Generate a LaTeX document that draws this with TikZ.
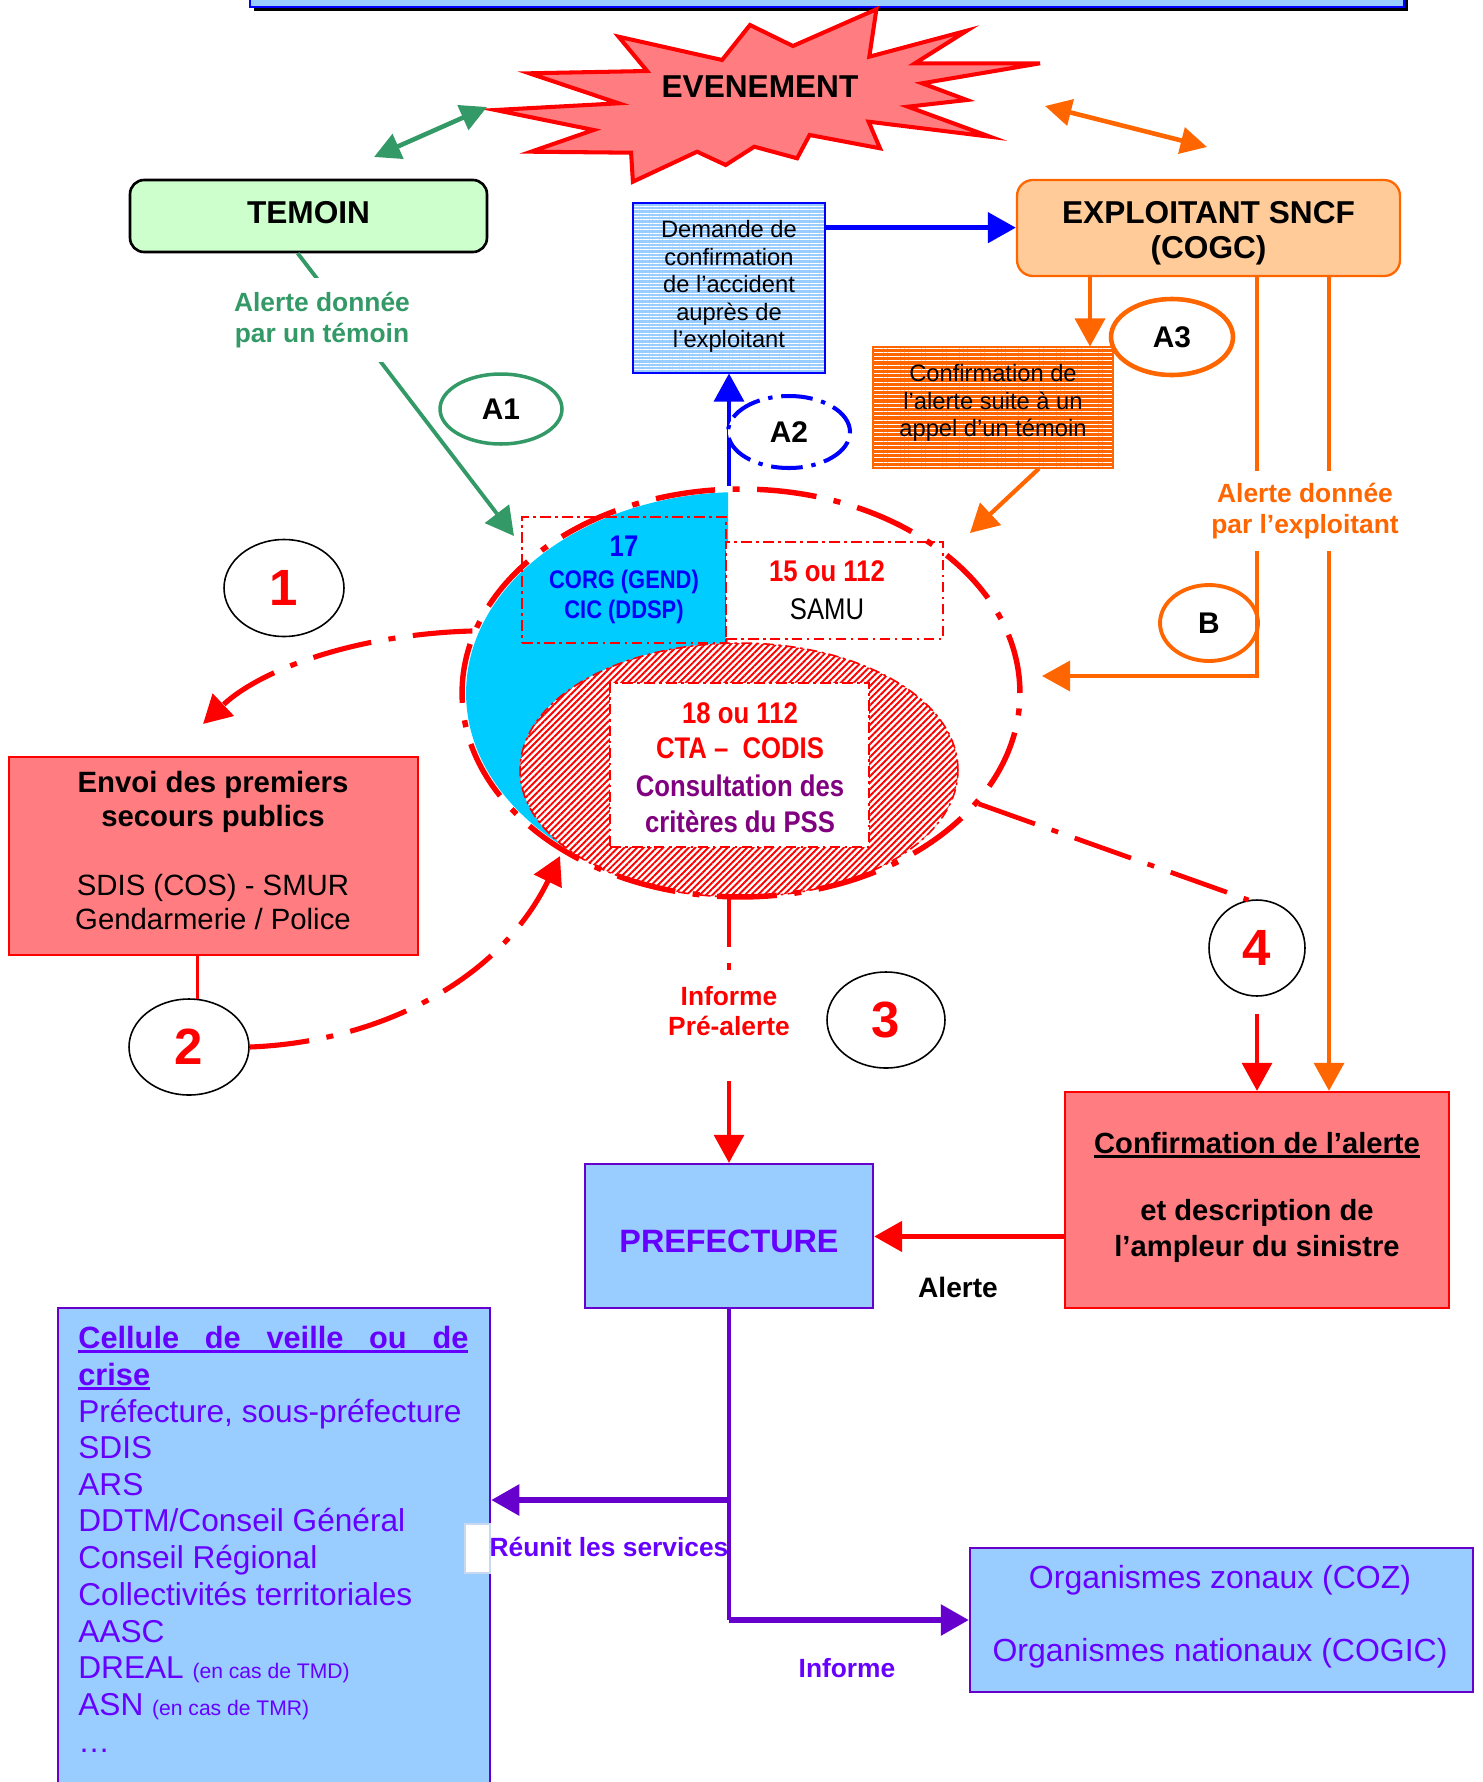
\documentclass[tikz,border=0pt]{standalone}
\usepackage{fontspec}
\setmainfont{Liberation Sans}
\newfontfamily\narrowfont[FakeStretch=0.86]{Liberation Sans}
\usetikzlibrary{arrows.meta,shapes.geometric,patterns.meta,calc}
\definecolor{cSalmon}{HTML}{FF7C80}
\definecolor{cGreen}{HTML}{339966}
\definecolor{cOrange}{HTML}{FF6600}
\definecolor{cLblue}{HTML}{99CCFF}
\definecolor{cCyan}{HTML}{00CCFF}
\definecolor{cLgreen}{HTML}{CCFFCC}
\definecolor{cPeach}{HTML}{FFCC99}
\definecolor{cPurple}{HTML}{6600CC}
\definecolor{cViolet}{HTML}{6600FF}
\definecolor{cPlum}{HTML}{800080}
\definecolor{cPale}{HTML}{C8D8F0}
\newcommand\fsz[2]{\fontsize{#1}{#2}\selectfont}
\newcommand\myul[1]{\setbox0=\hbox{#1}\rlap{\rule[-2.8pt]{\wd0}{1.4pt}}\box0}
\tikzset{
 arrA/.style={-{Triangle[length=16pt,width=17pt]}},
 arrAA/.style={{Triangle[length=15pt,width=15pt]}-{Triangle[length=15pt,width=15pt]}},
 dd/.style={dash pattern=on 34pt off 10pt on 4pt off 10pt},
 thindd/.style={draw=red, line width=0.9pt, dash pattern=on 6pt off 2.5pt on 1.5pt off 2.5pt},
 tb/.style={anchor=base, inner sep=0pt},
 tw/.style={anchor=base west, inner sep=0pt},
 numc/.style={ellipse, draw=black, line width=0.9pt, fill=white, inner sep=0pt, text=red, font=\fsz{29}{30}\bfseries},
 letc/.style={ellipse, fill=white, inner sep=0pt, font=\fsz{17}{18}\bfseries},
}
\begin{document}
\begin{tikzpicture}[x=0.02cm,y=-0.02cm]
\useasboundingbox (0,0) rectangle (1483,1782);
% top banner
\fill[black] (254,-20) rectangle (1408,11);
\draw[blue,line width=1.6pt,fill=cLblue] (250,-20) rectangle (1404,7);
% star
\draw[red,line width=2.3pt,fill=cSalmon] (495.4,110) -- (618.6,103.3) -- (529.3,73.3) -- (647.1,71) -- (618.6,36.7) -- (722.1,60) -- (750,25) -- (792.9,46) -- (876.4,9.3) -- (869.3,56.7) -- (966.8,30.7) -- (915,63.3) -- (1040,63.3) -- (922.1,83.3) -- (966.8,100) -- (907.9,106.7) -- (990,136.7) -- (868.6,121.7) -- (880,148.3) -- (809.6,135) -- (797.1,158.3) -- (754.3,146.7) -- (725.7,165) -- (697.1,151.7) -- (632.9,181.7) -- (631.1,152.7) -- (531.1,151.7) -- (593.6,130) -- cycle;
\node[tb,font=\fsz{18}{20}\bfseries] (evt) at (760,97) {EVENEMENT};
% double arrows
\coordinate (g1) at (374,157); \coordinate (g2) at (487,107);
\draw[cGreen,line width=2.6pt,arrAA] (g1) -- (g2);
\coordinate (o1) at (1045,106); \coordinate (o2) at (1207,147);
\draw[cOrange,line width=2.6pt,arrAA] (o1) -- (o2);
% top boxes
\node[draw=black,line width=1.5pt,fill=cLgreen,rounded corners=8pt,minimum width=7.14cm,minimum height=1.44cm] (temoin) at (308.5,216) {};
\node[font=\fsz{18}{20}\bfseries] (temoinT) at (308.5,212.5) {TEMOIN};
\node[draw=cOrange,line width=1.3pt,fill=cPeach,rounded corners=9pt,minimum width=7.66cm,minimum height=1.92cm] (exploit) at (1208.5,228) {};
\node[align=center,font=\fsz{18}{20}\bfseries] (exploitT) at (1208.5,233.5) {EXPLOITANT SNCF\\(COGC)};
\node[draw=blue,line width=1.3pt,preaction={fill=cLblue},pattern={Lines[angle=0,distance=1.9pt,line width=0.55pt]},pattern color=white,minimum width=3.84cm,minimum height=3.4cm] (demande) at (729,288) {};
\node[align=center,font=\fsz{13.5}{15.7}] (demandeT) at (729,286.5) {Demande de\\confirmation\\de l’accident\\auprès de\\l’exploitant};
\node[draw=cOrange,line width=1pt,preaction={fill=cOrange},pattern={Lines[angle=0,distance=2.4pt,line width=0.55pt]},pattern color=white,minimum width=4.8cm,minimum height=2.42cm] (obox) at (993,407.5) {};
\node[align=center,font=\fsz{13.5}{15.5}] (oboxT) at (993,403) {Confirmation de\\l’alerte suite à un\\appel d’un témoin};
% cyan region
\begin{scope}
\clip (400,470) rectangle (728,900);
\fill[cCyan] (741,693) ellipse [x radius=5.5cm, y radius=4.02cm];
\end{scope}
% hatched ellipse and inner boxes
\node[ellipse,thindd,preaction={fill=white},pattern={Lines[angle=45,distance=2.6pt,line width=1.1pt]},pattern color=red,minimum width=8.76cm,minimum height=5.08cm,inner sep=0pt] (hatch) at (739,770) {};
\node[thindd,minimum width=4.08cm,minimum height=2.52cm,inner sep=0pt] (box17) at (624,580) {};
\node[thindd,fill=white,minimum width=4.34cm,minimum height=1.94cm,inner sep=0pt] (box15) at (834.5,590.5) {};
\node[thindd,fill=white,minimum width=5.18cm,minimum height=3.28cm,inner sep=0pt] (box18) at (739.5,765) {};
\node[tb,text=blue,font=\narrowfont\fsz{17}{19}\bfseries] (t17a) at (624,556) {17};
\node[tb,text=blue,font=\narrowfont\fsz{14.5}{16}\bfseries] (t17b) at (624,588) {CORG (GEND)};
\node[tb,text=blue,font=\narrowfont\fsz{14.5}{16}\bfseries] (t17c) at (624,618) {CIC (DDSP)};
\node[tb,text=red,font=\narrowfont\fsz{17}{19}\bfseries] (t15a) at (827,581) {15 ou 112};
\node[tb,font=\narrowfont\fsz{17}{19}] (t15b) at (827,619) {SAMU};
\node[tb,text=red,font=\narrowfont\fsz{17}{19}\bfseries] (t18a) at (740,723) {18 ou 112};
\node[tb,text=red,font=\narrowfont\fsz{17}{19}\bfseries] (t18b) at (740,758) {CTA –~~CODIS};
\node[tb,text=cPlum,font=\narrowfont\fsz{17}{19}\bfseries] (t18c) at (740,796) {Consultation des};
\node[tb,text=cPlum,font=\narrowfont\fsz{17}{19}\bfseries] (t18d) at (740,832) {critères du PSS};
% big ellipse
\node[ellipse,draw=red,line width=3.1pt,dd,minimum width=11.16cm,minimum height=8.16cm,inner sep=0pt] (bigell) at (741,693) {};
% letter ellipses
\node[letc,draw=cGreen,line width=2pt,minimum width=2.44cm,minimum height=1.4cm] (a1) at (501,409) {A1};
\draw[blue,line width=2.2pt,arrA] (demande.south |- bigell.north) -- (demande.south);
\node[letc,draw=blue,line width=2.3pt,dash pattern=on 18pt off 5pt on 2.5pt off 5pt,minimum width=2.44cm,minimum height=1.44cm] (a2) at (789,432) {A2};
\node[letc,draw=cOrange,line width=2.6pt,minimum width=2.44cm,minimum height=1.52cm] (a3) at (1172,337) {A3};
\node[letc,draw=cOrange,line width=2.2pt,minimum width=1.96cm,minimum height=1.52cm] (b) at (1209,623) {B};
% number circles
\node[numc,minimum width=2.4cm,minimum height=1.94cm] (c1) at (284,588) {1};
\node[numc,minimum width=2.4cm,minimum height=1.92cm] (c2) at (189,1047) {2};
\node[numc,minimum width=2.36cm,minimum height=1.92cm] (c3) at (886,1020) {3};
\node[numc,minimum width=1.92cm,minimum height=1.92cm] (c4) at (1257,948) {4};
% lower boxes
\node[draw=red,line width=1.3pt,fill=cSalmon,minimum width=8.18cm,minimum height=3.96cm] (envoi) at (213.5,856) {};
\node[tb,font=\fsz{16.7}{18}\bfseries] (ev1) at (213,792) {Envoi des premiers};
\node[tb,font=\fsz{16.7}{18}\bfseries] (ev2) at (213,826) {secours publics};
\node[tb,font=\fsz{16.7}{18}] (ev3) at (213,895) {SDIS (COS) - SMUR};
\node[tb,font=\fsz{16.7}{18}] (ev4) at (213,929) {Gendarmerie / Police};
\node[draw=red,line width=1.3pt,fill=cSalmon,minimum width=7.68cm,minimum height=4.32cm] (confirm) at (1257,1200) {};
\node[tb,font=\fsz{16.6}{18}\bfseries] (cf1) at (1257,1153) {\myul{Confirmation de l’alerte}};
\node[tb,font=\fsz{16.6}{18}\bfseries] (cf2) at (1257,1220) {et description de};
\node[tb,font=\fsz{16.6}{18}\bfseries] (cf3) at (1257,1256) {l’ampleur du sinistre};
\node[draw=cPurple,line width=1.3pt,fill=cLblue,minimum width=5.76cm,minimum height=2.88cm] (pref) at (729,1236) {};
\node[tb,text=cViolet,font=\fsz{18.4}{20}\bfseries] (pf) at (729,1252) {PREFECTURE};
\node[tb,font=\fsz{16}{18}\bfseries] (alerte) at (958,1297) {Alerte};
\node[draw=cPurple,line width=1.3pt,fill=cLblue,minimum width=8.64cm,minimum height=10cm,anchor=north west,inner sep=0pt] (cellule) at (57,1307) {};
\node[draw=cPale,line width=0.8pt,fill=white,minimum width=0.5cm,minimum height=0.98cm,inner sep=0pt] (wbox) at (477.5,1548.5) {};
\node[draw=cPurple,line width=1.3pt,fill=cLblue,minimum width=10.06cm,minimum height=2.88cm] (orgs) at (1221.5,1620) {};
\node[tb,text=cViolet,font=\fsz{18.2}{20}] (og1) at (1220,1588) {Organismes zonaux (COZ)};
\node[tb,text=cViolet,font=\fsz{18.2}{20}] (og2) at (1220,1661) {Organismes nationaux (COGIC)};
% cellule text
\begin{scope}[every node/.style={tw,text=cViolet,font=\fsz{18}{21}}]
\node[font=\fsz{17.5}{21}\bfseries] (cl1) at (78,1348) {\myul{\makebox[222pt][s]{Cellule de veille ou de}}};
\node[font=\fsz{17.5}{21}\bfseries] (cl2) at (78,1385) {\myul{crise}};
\node (cl3) at (78,1422) {Préfecture, sous-préfecture};
\node (cl4) at (78,1458) {SDIS};
\node (cl5) at (78,1495) {ARS};
\node (cl6) at (78,1531) {DDTM/Conseil Général};
\node (cl7) at (78,1568) {Conseil Régional};
\node (cl8) at (78,1605) {Collectivités territoriales};
\node (cl9) at (78,1642) {AASC};
\node (cl10) at (78,1678) {DREAL {\fsz{12}{14}(en cas de TMD)}};
\node (cl11) at (78,1715) {ASN {\fsz{12}{14}(en cas de TMR)}};
\node (cl12) at (78,1752) {…};
\end{scope}
% connectors: top
\coordinate (gs) at ($(temoin.south west)!0.47!(temoin.south east)$);
\coordinate (gt) at (514,536);
\draw[cGreen,line width=2.2pt,arrA] (gs) -- (gt);
\node[align=center,fill=white,inner xsep=3pt,inner ysep=8pt,text=cGreen,font=\fsz{15}{17.6}\bfseries] (glbl) at (322,320) {Alerte donnée\\par un témoin};
\coordinate (bs) at ($(demande.north east)!0.147!(demande.south east)$);
\draw[blue,line width=3pt,arrA] (bs) -- (bs -| exploit.west);
\coordinate (xo1) at (1257,0); \coordinate (xo2) at (1329,0);
\coordinate (xo3) at (1090,0); \coordinate (xo4) at (1039,0);
\coordinate (tB) at (1042,676); \coordinate (tO) at (970,533);
\draw[cOrange,line width=2.4pt,arrA] (exploit.south -| xo3) -- (obox.north -| xo3);
\draw[cOrange,line width=2.4pt,arrA] (exploit.south -| xo1) |- (tB);
\draw[cOrange,line width=2.4pt,arrA] (exploit.south -| xo2) -- (confirm.north -| xo2);
\draw[cOrange,line width=2.4pt,arrA] (obox.south -| xo4) -- (tO);
\node[align=center,fill=white,inner xsep=2pt,inner ysep=7pt,text=cOrange,font=\fsz{15}{17.2}\bfseries] (olbl) at (1305,511) {Alerte donnée\\par l’exploitant};
% red connectors
\coordinate (t1) at (203,724);
\draw[red,line width=2.9pt,dd,arrA] (bigell.167) .. controls (360,634) and (262,668) .. (t1);
\draw[red,line width=2.2pt] (envoi.south -| c2.80) -- (c2.80);
\coordinate (t2) at (560,856);
\draw[red,line width=2.9pt,dd,arrA] (c2.east) .. controls (380,1042) and (500,980) .. (t2);
\draw[red,line width=2.7pt,dd] (bigell.-25.5) -- (c4.100);
\draw[red,line width=2.2pt,arrA,shorten <=10pt] (c4.south) -- (c4.south |- confirm.north);
\node[tb,text=red,font=\fsz{15}{17}\bfseries] (inf3a) at (729,1005) {Informe};
\node[tb,text=red,font=\fsz{15}{17}\bfseries] (inf3b) at (729,1035) {Pré-alerte};
\draw[red,line width=2.2pt,dash pattern=on 28pt off 9pt on 4pt off 9pt,shorten >=8pt] (hatch.south -| pref.north) -- (inf3a.north);
\draw[red,line width=2.2pt,arrA,shorten <=26pt] (inf3b.south) -- (pref.north);
\coordinate (cs) at ($(confirm.north west)!0.667!(confirm.south west)$);
\draw[red,line width=3.2pt,arrA] (cs) -- (cs -| pref.east);
% purple connectors
\coordinate (j1) at (729,1500); \coordinate (j2) at (729,1620);
\draw[cPurple,line width=2.2pt] (pref.south) -- (j2);
\draw[cPurple,line width=3.5pt,arrA] (j1) -- (j1 -| cellule.east);
\draw[cPurple,line width=3.5pt,arrA] (j2) -- (j2 -| orgs.west);
\node[tb,text=cViolet,font=\fsz{15}{17}\bfseries] (reunit) at (609,1556) {Réunit les services};
\node[tb,text=cViolet,font=\fsz{15}{17}\bfseries] (informe) at (847,1677) {Informe};
\end{tikzpicture}
\end{document}
